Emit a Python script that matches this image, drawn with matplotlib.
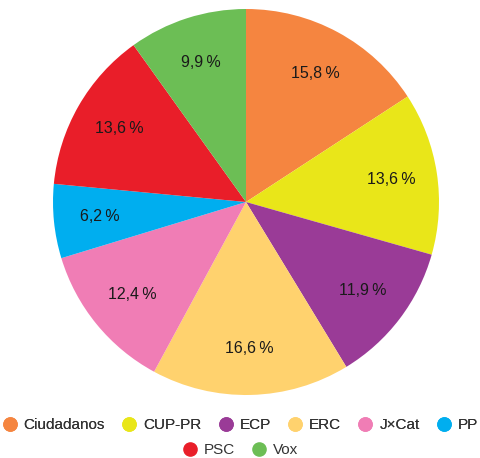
import matplotlib
matplotlib.use("Agg")
import matplotlib.pyplot as plt
from matplotlib.lines import Line2D

categories = ["Ciudadanos", "CUP-PR", "ECP", "ERC", "J×Cat", "PP", "PSC", "Vox"]
values = [15.8, 13.6, 11.9, 16.6, 12.4, 6.2, 13.6, 9.9]
colors = ["#F58540", "#E9E619", "#9A3B97", "#FFD26E", "#F07DB5", "#00AEEF", "#E91E29", "#6CBE55"]

plt.rcParams['font.family'] = ['Liberation Sans', 'DejaVu Sans']

fig = plt.figure(figsize=(4.8, 4.58), dpi=100)
cx, cy, r = 246, 202, 193
ax = fig.add_axes([(cx - r) / 480, (458 - (cy + r)) / 458, 2 * r / 480, 2 * r / 458])
labels = [f"{v:.1f}\u2009%".replace('.', ',') for v in values]
wedges, texts = ax.pie(values, colors=colors, startangle=90, counterclock=False,
                       labels=labels, labeldistance=0.76, radius=1.0,
                       textprops=dict(fontsize=11.5, color="#1a1a1a", ha='center', va='center'))
ax.set_aspect('equal')
ax.set_xlim(-1, 1)
ax.set_ylim(-1, 1)
ax.axis('off')

def make_handles(cols):
    return [Line2D([0], [0], marker='o', linestyle='', markersize=9.5,
                   markerfacecolor=c, markeredgecolor=c) for c in cols]

leg1 = fig.legend(make_handles(colors[:6]), categories[:6], loc='center',
                  bbox_to_anchor=(0.5, 1 - 425 / 458), ncol=6, frameon=False,
                  fontsize=11, handletextpad=0.4, columnspacing=1.1,
                  handlelength=1.0, borderpad=0, borderaxespad=0)
leg2 = fig.legend(make_handles(colors[6:]), categories[6:], loc='center',
                  bbox_to_anchor=(0.5, 1 - 450 / 458), ncol=2, frameon=False,
                  fontsize=11, handletextpad=0.4, columnspacing=1.1,
                  handlelength=1.0, borderpad=0, borderaxespad=0)
fig.add_artist(leg1)
for leg in (leg1, leg2):
    for t in leg.get_texts():
        t.set_color("#333333")

fig.savefig("out.png", dpi=100)
